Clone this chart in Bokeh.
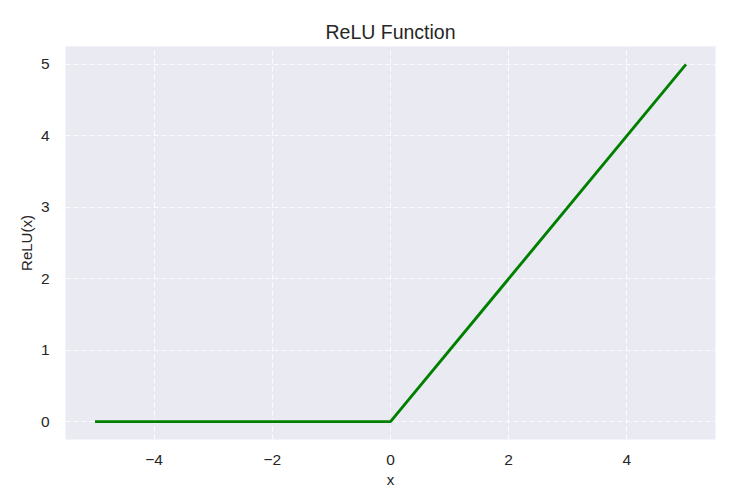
from bokeh.plotting import figure
from bokeh.models import FixedTicker, Range1d
from bokeh.embed import file_html
from bokeh.resources import INLINE

# Data (ReLU breakpoints)
x_vals = [-5, 0, 5]
relu_vals = [0, 0, 5]
x_ticks = [-4, -2, 0, 2, 4]
y_ticks = [0, 1, 2, 3, 4, 5]
x_tick_labels = {-4: "\u22124", -2: "\u22122", 0: "0", 2: "2", 4: "4"}

FONT = "Liberation Sans"
TXT = "#262626"

p = figure(
    output_backend="svg", toolbar_location=None,
    frame_width=650, frame_height=393,
    x_range=Range1d(-5.5, 5.5), y_range=Range1d(-0.25, 5.25),
    min_border_left=65, min_border_right=10, min_border_top=46, min_border_bottom=45,
    background_fill_color="#EAEAF2", border_fill_color="white",
    outline_line_color=None,
    title="ReLU Function",
)

p.title.align = "center"
p.title.text_font = FONT
p.title.text_font_size = "19.5px"
p.title.text_font_style = "normal"
p.title.text_color = TXT
p.title.offset = 0
p.title.standoff = 7

p.line(x_vals, relu_vals, line_color="#008000", line_width=2.9)

for ax in (p.xaxis[0], p.yaxis[0]):
    ax.axis_line_color = None
    ax.major_tick_line_color = None
    ax.minor_tick_line_color = None
    ax.major_label_text_font = FONT
    ax.major_label_text_font_size = "15.5px"
    ax.major_label_text_color = TXT
    ax.axis_label_text_font = FONT
    ax.axis_label_text_font_size = "15px"
    ax.axis_label_text_font_style = "normal"
    ax.axis_label_text_color = TXT

p.xaxis.ticker = FixedTicker(ticks=x_ticks)
p.yaxis.ticker = FixedTicker(ticks=y_ticks)
p.xaxis.major_label_overrides = x_tick_labels
p.xaxis.axis_label = "x"
p.yaxis.axis_label = "ReLU(x)"
p.xaxis.major_label_standoff = 9
p.yaxis.major_label_standoff = 10
p.xaxis.axis_label_standoff = 3
p.yaxis.axis_label_standoff = 3

for g in (p.xgrid[0], p.ygrid[0]):
    g.grid_line_color = "white"
    g.grid_line_alpha = 0.85
    g.grid_line_dash = "5 3"
    g.grid_line_width = 1

open("out.html", "w").write(file_html(p, INLINE))
